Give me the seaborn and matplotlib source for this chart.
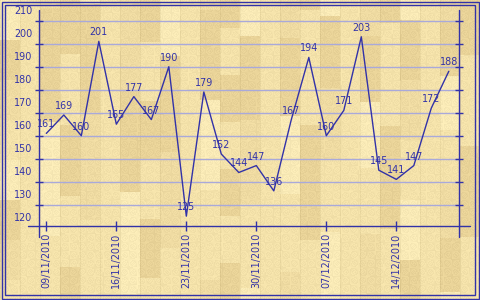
import numpy as np
import pandas as pd
import matplotlib
matplotlib.use("Agg")
import matplotlib.pyplot as plt
import matplotlib.transforms as mtransforms
from matplotlib.patches import Rectangle
import seaborn as sns

# ---------------- data ----------------
values = [161, 169, 160, 201, 165, 177, 167, 190, 125, 179, 152, 144,
          147, 136, 167, 194, 160, 171, 203, 145, 141, 147, 172, 188]
start_date = "2010-11-09"
step = "42h"
tick_dates = ["2010-11-09", "2010-11-16", "2010-11-23",
              "2010-11-30", "2010-12-07", "2010-12-14"]
tick_labels = ["09/11/2010", "16/11/2010", "23/11/2010",
               "30/11/2010", "07/12/2010", "14/12/2010"]
y_label_values = [120, 130, 140, 150, 160, 170, 180, 190, 200, 210]
grid_values = [130, 140, 150, 160, 170, 180, 190, 200, 210]

dates = pd.date_range(start_date, periods=len(values), freq=step)
df = pd.DataFrame({"date": dates, "value": values})

# ---------------- style ----------------
sns.set_theme(style="white")
plt.rcParams["font.family"] = ["DejaVu Sans"]
BLUE = "#3232A8"
GRID = "#A9A9DA"
FS = 6.9

W, H = 480, 300
fig = plt.figure(figsize=(W / 100, H / 100), dpi=100)

# wood-floor background (deterministic pattern)
yy, xx = np.mgrid[0:H, 0:W]
col = xx // 20
seg = 40 + (col * 37) % 80
off = (col * 53) % seg
row = (yy + off) // seg
palette = np.array([[249, 234, 182], [244, 226, 170], [239, 219, 162],
                    [233, 211, 152]], dtype=float)
idx = (col * 5 + row * 3 + col * row) % 4
img = palette[idx]
speck = (((xx * 131 + yy * 71 + (xx * yy) % 17) % 9) - 4) * 1.3
img = img + speck[..., None] * np.array([1.0, 1.0, 0.8])
edge = (xx % 20 == 0)
img[edge] = img[edge] - 10
img = np.clip(img, 0, 255) / 255.0
bg = fig.add_axes([0, 0, 1, 1])
bg.imshow(img, aspect="auto", interpolation="nearest")
bg.axis("off")

# outer double frame
for inset in (1.5, 5.0):
    fig.patches.append(Rectangle((inset / W, inset / H), 1 - 2 * inset / W,
                                 1 - 2 * inset / H, transform=fig.transFigure,
                                 fill=False, edgecolor=BLUE, lw=1.0))

# main axes
L, R, T, B = 38.7, 459.3, 10.0, 226.3
ax = fig.add_axes([L / W, (H - B) / H, (R - L) / W, (B - T) / H])
ax.set_facecolor("none")

sns.lineplot(data=df, x="date", y="value", ax=ax, color=BLUE, lw=1.0)

t0 = pd.Timestamp(start_date)
ax.set_xlim(t0 - pd.Timedelta(hours=18.3), t0 + pd.Timedelta(days=41.3))
ax.set_ylim(120.6, 214.65)

ax.set_yticks(grid_values)
ax.set_yticklabels([])
ax.set_xticks(pd.to_datetime(tick_dates))
ax.set_xticklabels(tick_labels, rotation=90, fontsize=FS, color=BLUE)
ax.tick_params(axis="y", left=True, right=True, direction="inout",
               length=6.3, width=1.0, color=BLUE, labelleft=False)
ax.tick_params(axis="x", bottom=True, direction="inout", length=6.7,
               width=1.0, color=BLUE, pad=1.5)
ax.grid(axis="y", color=GRID, lw=1.0)
ax.grid(axis="x", visible=False)
ax.set_xlabel("")
ax.set_ylabel("")
for s in ax.spines.values():
    s.set_visible(False)

# axis lines extending beyond the plot box
axh = B - T
ax.plot([0, 0], [-(236.7 - B) / axh, 1], transform=ax.transAxes,
        color=BLUE, lw=1.0, clip_on=False)
ax.plot([1, 1], [-(236.7 - B) / axh, 1], transform=ax.transAxes,
        color=BLUE, lw=1.0, clip_on=False)
ax.plot([(28.3 - L) / (R - L), (470 - L) / (R - L)], [0, 0],
        transform=ax.transAxes, color=BLUE, lw=1.0, clip_on=False)

# y labels (drawn slightly above their grid lines, as in the reference)
trans = mtransforms.blended_transform_factory(ax.transAxes, ax.transData)
for v in y_label_values:
    ax.text(-(L - 32.5) / (R - L), v + 4.0, str(v), transform=trans,
            ha="right", va="center", fontsize=FS, color=BLUE, clip_on=False)

# value labels
for d, v in zip(dates, values):
    ax.annotate(str(v), (d, v), xytext=(0, 6.5), textcoords="offset points",
                ha="center", va="center", fontsize=FS, color=BLUE,
                annotation_clip=False)

fig.savefig("out.png", dpi=100)
